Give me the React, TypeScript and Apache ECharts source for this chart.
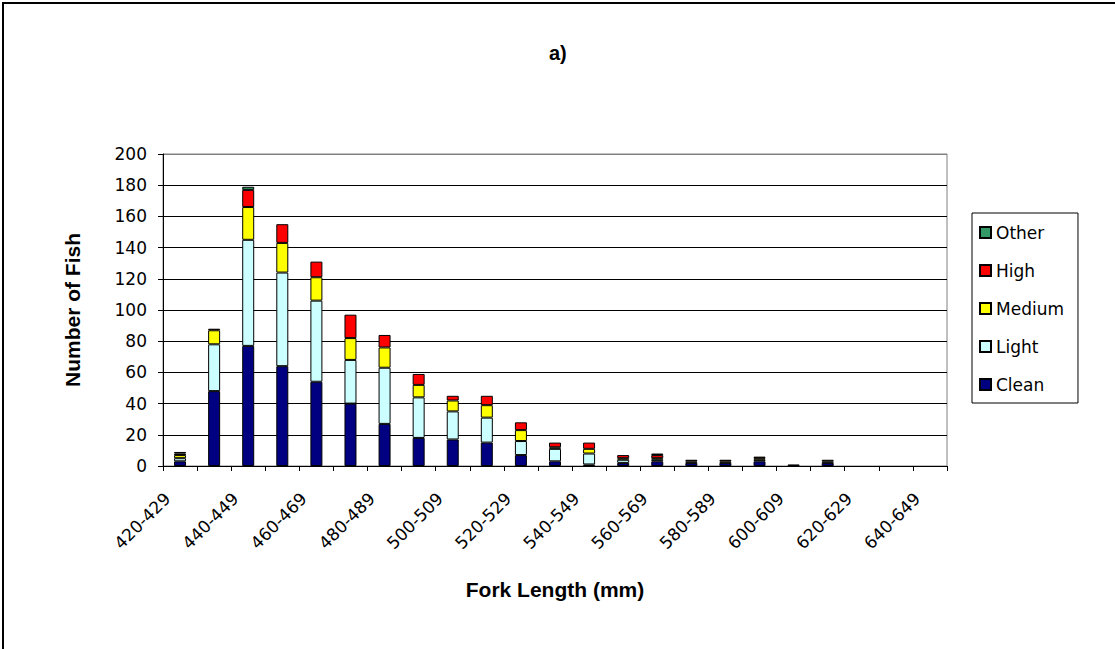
import React, { useEffect, useRef } from "react";
import * as echarts from "echarts";

const categories = [
  "420-429", "430-439", "440-449", "450-459", "460-469", "470-479", "480-489", "490-499",
  "500-509", "510-519", "520-529", "530-539", "540-549", "550-559", "560-569", "570-579",
  "580-589", "590-599", "600-609", "610-619", "620-629", "630-639", "640-649",
];
const clean = [3, 48, 77, 64, 54, 40, 27, 18, 17, 15, 7, 3, 1, 2, 3, 2, 2, 3, 1, 2, 0, 0, 0];
const light = [2, 30, 68, 60, 52, 28, 36, 26, 18, 16, 9, 8, 7, 2, 1, 0, 0, 1, 0, 1, 0, 0, 0];
const medium = [2, 9, 21, 19, 15, 14, 13, 8, 7, 8, 7, 1, 3, 1, 1, 1, 1, 1, 0, 1, 0, 0, 0];
const high = [1, 1, 11, 12, 10, 15, 8, 7, 3, 6, 5, 3, 4, 2, 2, 1, 1, 1, 0, 0, 0, 0, 0];
const other = [1, 0, 2, 0, 0, 0, 0, 0, 0, 0, 0, 0, 0, 0, 1, 0, 0, 0, 0, 0, 0, 0, 0];
const yTicks = [0, 20, 40, 60, 80, 100, 120, 140, 160, 180, 200];

const seriesDefs = [
  { name: "Clean", data: clean, color: "#000080" },
  { name: "Light", data: light, color: "#CCFFFF" },
  { name: "Medium", data: medium, color: "#FFFF00" },
  { name: "High", data: high, color: "#FF0000" },
  { name: "Other", data: other, color: "#339966" },
];

export default function App() {
  const ref = useRef<HTMLDivElement>(null);
  useEffect(() => {
    if (!ref.current) return;
    const chart = echarts.init(ref.current, undefined, { renderer: "svg" });
    const font = "DejaVu Sans";
    const splitColors = yTicks.map((_, i) => (i === yTicks.length - 1 ? "#808080" : "#000000"));
    chart.setOption({
      animation: false,
      backgroundColor: "#ffffff",
      title: {
        text: "a)",
        left: 544,
        top: 38,
        textStyle: { fontFamily: "Liberation Sans Narrow, Liberation Sans", fontWeight: "bold", fontSize: 20, color: "#000" },
      },
      graphic: [
        {
          type: "rect",
          shape: { x: 3, y: 3, width: 1200, height: 800 },
          style: { fill: "none", stroke: "#000", lineWidth: 2 },
          silent: true,
        },
      ],
      legend: {
        orient: "vertical",
        left: 972,
        top: 213,
        data: ["Other", "High", "Medium", "Light", "Clean"],
        itemWidth: 11,
        itemHeight: 11,
        itemGap: 21,
        padding: [11, 14, 10, 7],
        borderColor: "#000",
        borderWidth: 1,
        icon: "rect",
        textStyle: { fontFamily: font, fontSize: 17, color: "#000", lineHeight: 17 },
      },
      grid: {
        left: 163,
        right: 168,
        top: 154,
        bottom: 183,
        show: true,
        borderColor: "#808080",
        borderWidth: 1,
        backgroundColor: "#fff",
      },
      xAxis: {
        type: "category",
        data: categories,
        name: "Fork Length (mm)",
        nameLocation: "middle",
        nameGap: 113,
        nameTextStyle: { fontFamily: "Liberation Sans", fontWeight: "bold", fontSize: 21, color: "#000" },
        axisLine: { lineStyle: { color: "#000", width: 1 } },
        axisTick: { show: true, interval: 0, length: 5, lineStyle: { color: "#000" } },
        axisLabel: {
          interval: 1,
          rotate: 45,
          margin: 17,
          padding: [0, 18, 0, 0],
          fontFamily: font,
          fontSize: 17,
          color: "#000",
        },
      },
      yAxis: {
        type: "value",
        min: 0,
        max: 200,
        interval: 20,
        name: "Number of Fish",
        nameLocation: "middle",
        nameGap: 80,
        nameTextStyle: { fontFamily: "Liberation Sans", fontWeight: "bold", fontSize: 21, color: "#000" },
        axisLine: { show: true, lineStyle: { color: "#000", width: 1 } },
        axisTick: { show: true, length: 5, lineStyle: { color: "#000" } },
        axisLabel: { margin: 16, fontFamily: font, fontSize: 17, color: "#000" },
        splitLine: { show: true, lineStyle: { color: splitColors, width: 1 } },
      },
      series: seriesDefs.map((s) => ({
        name: s.name,
        type: "bar",
        stack: "total",
        barWidth: 12,
        data: s.data.map((v) => (v === 0 ? null : v)),
        itemStyle: { color: s.color, borderColor: "#000", borderWidth: 1 },
      })),
    });
    return () => chart.dispose();
  }, []);
  return (
    <div
      ref={ref}
      style={{ position: "absolute", left: 0, top: 0, width: 1115, height: 649 }}
    />
  );
}
